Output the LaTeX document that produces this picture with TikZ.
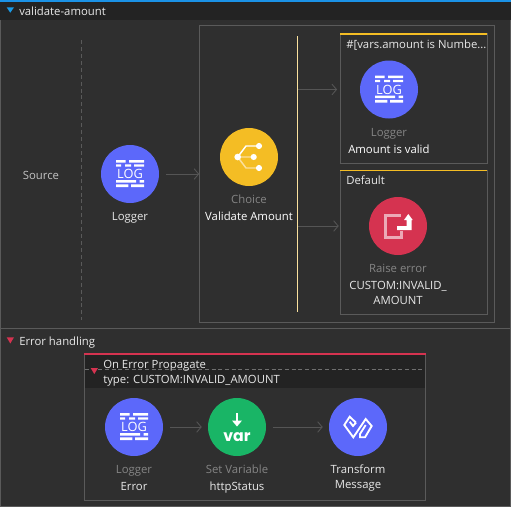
\documentclass[tikz,border=0pt]{standalone}
\usepackage{fontspec}
\setmainfont{Open Sans}
\newfontfamily\varfont{Poppins}
\usetikzlibrary{arrows.meta}
\definecolor{bgc}{HTML}{2F2F2F}
\definecolor{hdr}{HTML}{232323}
\definecolor{edge}{HTML}{5A5A5A}
\definecolor{arrowc}{HTML}{555555}
\definecolor{txt}{HTML}{E8E8E8}
\definecolor{mut}{HTML}{858585}
\definecolor{yel}{HTML}{F4BD24}
\definecolor{redc}{HTML}{D53350}
\definecolor{pale}{HTML}{ECA9B6}
\definecolor{blu}{HTML}{5C68FA}
\definecolor{grn}{HTML}{19B566}
\definecolor{tri}{HTML}{1A9BE8}
\definecolor{barblue}{HTML}{1B92E6}
\definecolor{facey}{HTML}{FBDF9C}
\tikzset{
  circ/.style={circle,minimum size=43.5pt,inner sep=0pt,draw=none},
  lab/.style={inner sep=0pt,text=txt,text height=6.5pt,text depth=2pt,font=\fontsize{8.5pt}{10pt}\selectfont},
  mlab/.style={lab,text=mut},
  flow/.style={draw=arrowc,line width=0.65pt,-{Straight Barb[length=3.4pt,width=8pt,line width=0.65pt]}},
  frame/.style={draw=edge,line width=0.75pt,inner sep=0pt},
  logicon/.pic={
    \fill[white] (-14,-14) rectangle (-4.3,-11.3) (-1,-14) rectangle (14,-11.3)
      (-14,-9.7) rectangle (-9,-7.3) (-5,-9.7) rectangle (1,-7.3) (4,-9.7) rectangle (14,-7.3)
      (-14,6) rectangle (6,8.7) (9.7,6) rectangle (14,8.7)
      (-14,10.3) rectangle (-1.7,13) (1,10.3) rectangle (14,13);
    \node[inner sep=0pt,text=white,font=\fontsize{9.6pt}{10pt}\selectfont] at (0,0) {LOG};
  },
  choiceicon/.pic={
    \draw[facey,line width=1.1pt] (-11.3,0) -- (4.7,0) (-11.3,0) -- (-3,11) -- (10,11);
    \draw[white,line width=1.1pt] (-11.3,0) -- (-3,-11) -- (10,-11);
    \fill[white] (-11.3,0) circle (2.5pt) (4.7,0) circle (2.3pt) (10,-11) circle (2.3pt) (10,11) circle (2.3pt);
  },
  raiseicon/.pic={
    \draw[pale,line width=2pt] (2.5,-10.7) -- (-12.7,-10.7) -- (-12.7,11.5) -- (3.7,11.5) -- (3.7,5);
    \fill[white] (-1,0) rectangle (13.7,4) (8.7,-6) rectangle (13.7,4) (10.3,-12) -- (6,-6) -- (14.7,-6) -- cycle;
  },
  varicon/.pic={
    \draw[white,line width=2.2pt] (0,-14) -- (0,-6);
    \fill[white] (-5,-6.5) -- (5,-6.5) -- (0,-0.5) -- cycle;
    \node[inner sep=0pt,text=white,font=\varfont\bfseries\fontsize{11.8pt}{13pt}\selectfont] at (0,9.8) {var};
  },
  transformicon/.pic={
    \draw[white,line width=1.4pt,line join=miter]
      (-2,-4.3) -- (-8.3,-10.3) -- (-13.7,-2) -- (-4.7,10.3) -- (7.7,-8) -- (13.7,-1) -- (7,10.3) -- (2,10.3) -- (2,7) -- (7.7,-2);
    \draw[white,line width=1.4pt] (-8.3,-5.3) -- (-5,-1) -- (-2,-4.3);
  }
}
\begin{document}
\begin{tikzpicture}[x=0.75pt,y=-0.75pt]
\useasboundingbox (0,0) rectangle (511,507);
\fill[bgc] (0,0) rectangle (511,507);
\fill[hdr] (0,2) rectangle (511,20);
\fill[barblue] (0,0) rectangle (511,2);
% outer frame and divider
\draw[edge,line width=0.75pt] (0.7,20) -- (0.7,506.3) -- (510.2,506.3) -- (510.2,20);
\draw[edge,line width=0.75pt] (0.7,328) -- (510.2,328);

\fill[tri] (6.7,7.3) -- (14,7.3) -- (10.3,12.7) -- cycle;
\node[lab,anchor=west] (title) at (19,12) {validate-amount};

% source
\node[lab,text=txt!80!bgc] (source) at (41,176) {Source};
\coordinate (dTop) at (81,40);
\coordinate (dBot) at (81,320);
\draw[edge,line width=0.75pt,dash pattern=on 3pt off 2.2pt] (dTop) -- (dBot);

% choice frame and branches
\node[frame,minimum width=221.25pt,minimum height=222.75pt] (cbox) at (347.2,173.5) {};
\node[frame,minimum width=110.25pt,minimum height=97.5pt] (b1) at (413.5,98) {};
\node[frame,minimum width=110.25pt,minimum height=108pt] (b2) at (413.5,242) {};
\fill[yel] (340,33) rectangle (487.2,35);
\fill[yel] (340,169.5) rectangle (487.2,171.2);
\coordinate (rTop) at (297.7,36);
\coordinate (rBot) at (297.7,312);
\draw[yel!45!white,line width=0.75pt] (rTop) -- (rBot);

% circles
\node[circ,fill=blu] (log1) at (130,174) {};
\pic at (log1) {logicon};
\node[circ,fill=yel] (choice) at (249,157) {};
\pic at (choice) {choiceicon};
\node[circ,fill=blu] (log2) at (389,89.5) {};
\pic at (log2) {logicon};
\node[circ,fill=redc] (raise) at (398,226) {};
\pic at (raise) {raiseicon};

\coordinate (r1) at (298,89.5);
\coordinate (r2) at (298,226);
\draw[flow,shorten <=5.2pt] (log1.east) -- (log1.east -| cbox.west);
\draw[flow,shorten >=17pt] (r1) -- (log2.west);
\draw[flow,shorten >=22.5pt] (r2) -- (raise.west);

% labels, main flow
\node[lab] (log1t) at (130,217) {Logger};
\node[mlab] (chA) at (249,200) {Choice};
\node[lab,text=white] (chB) at (249,217) {Validate Amount};
\node[lab,anchor=west] (cond) at (346,45) {\#[vars.amount is Numbe...};
\node[mlab] (log2a) at (389,133) {Logger};
\node[lab,anchor=west,text=white] (log2b) at (348,150) {Amount is valid};
\node[lab,anchor=west] (def) at (346,181) {Default};
\node[mlab] (raiseA) at (398,269) {Raise error};
\node[lab] (raiseB) at (398,286) {CUSTOM:INVALID\_};
\node[lab] (raiseC) at (398,301) {AMOUNT};

% error handling
\fill[redc] (6.7,337.3) -- (14,337.3) -- (10.3,343.5) -- cycle;
\node[lab,anchor=west] (errh) at (19,342) {Error handling};
\node[frame,minimum width=255.75pt,minimum height=110.25pt] (ebox) at (255,427) {};
\fill[hdr] (85,355) rectangle (425,388);
\fill[redc] (84.2,353) rectangle (425.8,355);
\coordinate (eL) at (85,369);
\coordinate (eR) at (425,369);
\draw[edge!150!bgc,line width=0.75pt,dash pattern=on 3pt off 2pt] (eL) -- (eR);
\fill[redc] (90.7,368) -- (98,368) -- (94.3,374) -- cycle;
\node[lab,anchor=west] (ep1) at (103,365) {On Error Propagate};
\node[lab,anchor=west] (ep2) at (103,380) {type: CUSTOM:INVALID\_AMOUNT};

\node[circ,fill=blu] (log3) at (134,427) {};
\pic at (log3) {logicon};
\node[circ,fill=grn] (var) at (237,427) {};
\pic at (var) {varicon};
\node[circ,fill=blu] (trans) at (358,427) {};
\pic at (trans) {transformicon};
\draw[flow,shorten <=5pt,shorten >=4.5pt] (log3) -- (var);
\draw[flow,shorten <=5pt,shorten >=4.5pt] (var) -- (trans);

\node[mlab] (l3a) at (134,470) {Logger};
\node[lab] (l3b) at (134,487) {Error};
\node[mlab] (vA) at (237,470) {Set Variable};
\node[lab] (vB) at (237,487) {httpStatus};
\node[lab] (tA) at (358,470) {Transform};
\node[lab] (tB) at (358,485) {Message};
\end{tikzpicture}
\end{document}
